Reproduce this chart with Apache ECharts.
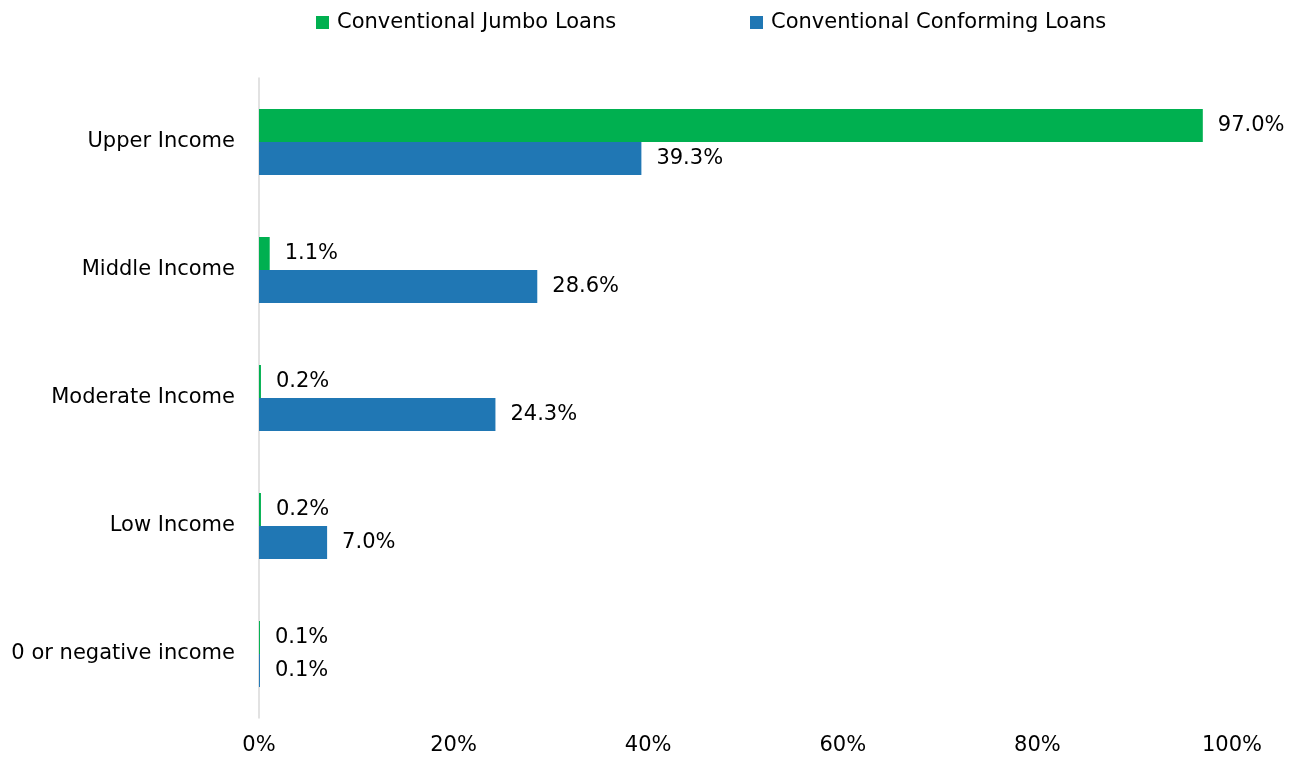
<!DOCTYPE html>
<html>
<head>
<meta charset="utf-8">
<script src="https://cdn.jsdelivr.net/npm/echarts@6/dist/echarts.min.js"></script>
<style>
  html, body { margin: 0; padding: 0; background: #fff; }
  #chart { width: 1296px; height: 757px; }
</style>
</head>
<body>
<div id="chart"></div>
<script>
// Income groups, listed top to bottom
const categories = ['Upper Income', 'Middle Income', 'Moderate Income', 'Low Income', '0 or negative income'];
// Share of loans by borrower income (%)
const jumboLoans = [97.0, 1.1, 0.2, 0.2, 0.1];
const conformingLoans = [39.3, 28.6, 24.3, 7.0, 0.1];
const seriesNames = ['Conventional Jumbo Loans', 'Conventional Conforming Loans'];

const FONT = '"DejaVu Sans", sans-serif';
const FONT_SIZE = 21;

const chart = echarts.init(document.getElementById('chart'));

const labelStyle = {
  show: true,
  position: 'right',
  distance: 15,
  color: '#000',
  fontSize: FONT_SIZE,
  fontFamily: FONT,
  formatter: p => p.value.toFixed(1) + '%'
};

// one legend entry per component so each can sit at its own spot
function legendAt(left, name) {
  return {
    top: 7,
    left: left,
    itemWidth: 13,
    itemHeight: 13,
    icon: 'rect',
    textStyle: { fontSize: FONT_SIZE, color: '#000', fontFamily: FONT, padding: [0, 0, 0, 3] },
    data: [name]
  };
}

chart.setOption({
  animation: false,
  legend: [legendAt(311, seriesNames[0]), legendAt(745, seriesNames[1])],
  grid: { left: 259, right: 64, top: 78, bottom: 39, containLabel: false },
  xAxis: {
    type: 'value',
    min: 0,
    max: 100,
    interval: 20,
    axisLine: { show: false },
    axisTick: { show: false },
    splitLine: { show: false },
    axisLabel: {
      margin: 17,
      fontSize: FONT_SIZE,
      color: '#000',
      fontFamily: FONT,
      formatter: v => v + '%'
    }
  },
  yAxis: {
    type: 'category',
    inverse: true,
    data: categories,
    axisLine: { show: true, lineStyle: { color: '#D9D9D9', width: 1.5 } },
    axisTick: { show: false },
    axisLabel: { margin: 24, fontSize: FONT_SIZE, color: '#000', fontFamily: FONT }
  },
  series: [
    {
      name: seriesNames[0],
      type: 'bar',
      data: jumboLoans,
      itemStyle: { color: '#00B050' },
      barWidth: 33,
      barGap: '0%',
      label: labelStyle
    },
    {
      name: seriesNames[1],
      type: 'bar',
      data: conformingLoans,
      itemStyle: { color: '#2077B4' },
      barWidth: 33,
      barGap: '0%',
      label: labelStyle
    }
  ]
});
</script>
</body>
</html>
